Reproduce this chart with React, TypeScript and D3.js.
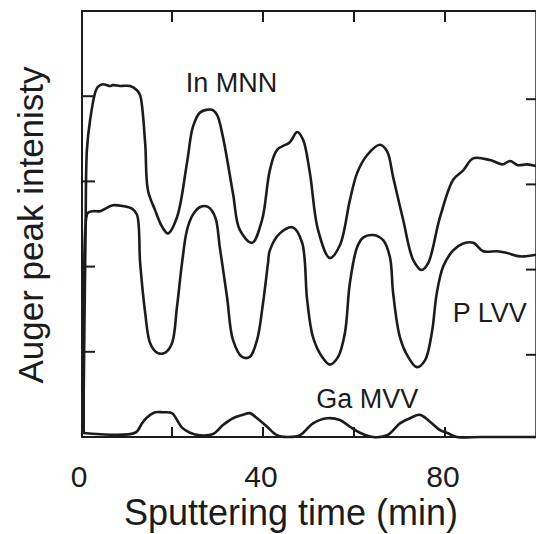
import React from "react";
import * as d3 from "d3";

// ---- data ----
const inTimes = [0.5, 1.0, 1.3, 2.0, 3.1, 3.7, 4.8, 6.4, 7.0, 8.6, 10.8, 12.3, 13.0, 14.1, 14.7, 16.3, 17.8, 19.1, 21.1, 23.3, 24.6, 26.2, 28.8, 29.9, 31.2, 33.4, 34.9, 37.6, 39.8, 41.5, 43.1, 45.9, 47.5, 48.8, 50.3, 52.1, 54.7, 56.9, 59.1, 60.7, 62.9, 65.7, 67.3, 68.6, 70.8, 73.0, 74.9, 76.3, 78.9, 81.8, 84.0, 86.2, 89.9, 92.7, 94.3, 96.0, 98.0, 100];
const inValues = [0.05, 2.4, 3.37, 3.72, 4.04, 4.11, 4.14, 4.12, 4.13, 4.12, 4.12, 4.07, 4.01, 3.45, 2.90, 2.66, 2.47, 2.39, 2.58, 3.22, 3.64, 3.81, 3.84, 3.78, 3.52, 2.86, 2.43, 2.28, 2.55, 3.13, 3.37, 3.46, 3.58, 3.49, 3.10, 2.43, 2.10, 2.25, 2.78, 3.10, 3.31, 3.43, 3.35, 3.05, 2.55, 2.08, 1.96, 2.04, 2.58, 3.02, 3.13, 3.27, 3.25, 3.20, 3.24, 3.19, 3.20, 3.18];

const pTimes = [0.6, 1.1, 1.5, 2.6, 4.2, 5.7, 7.0, 9.2, 11.2, 12.3, 13.0, 14.1, 15.2, 16.7, 18.5, 20.0, 21.1, 22.2, 23.3, 24.6, 26.2, 27.9, 29.5, 30.5, 32.1, 33.4, 35.4, 37.1, 38.7, 40.0, 41.1, 41.5, 43.7, 46.6, 48.6, 49.7, 51.0, 53.0, 54.7, 56.5, 58.0, 59.1, 60.7, 62.0, 64.2, 66.4, 67.9, 68.6, 70.1, 71.9, 73.8, 75.6, 77.1, 78.2, 79.6, 81.8, 84.0, 86.2, 88.4, 91.4, 93.6, 96.5, 100];
const pValues = [0.05, 2.55, 2.63, 2.65, 2.65, 2.69, 2.72, 2.71, 2.68, 2.61, 2.04, 1.46, 1.10, 0.99, 0.99, 1.10, 1.53, 2.04, 2.43, 2.61, 2.70, 2.70, 2.58, 2.23, 1.64, 1.14, 0.94, 0.94, 1.14, 1.57, 2.04, 2.19, 2.39, 2.46, 2.28, 1.61, 1.17, 0.94, 0.85, 0.94, 1.22, 1.81, 2.23, 2.34, 2.37, 2.31, 2.11, 1.69, 1.17, 0.94, 0.82, 0.90, 1.22, 1.69, 2.00, 2.19, 2.27, 2.28, 2.18, 2.18, 2.16, 2.12, 2.14];

const gaTimes = [0, 11.9, 13.4, 14.5, 16.3, 18.0, 20.0, 21.1, 22.2, 23.95, 26.2, 29.0, 31.2, 33.4, 35.6, 37.1, 38.7, 40.9, 43.1, 45.3, 48.1, 51.0, 54.1, 56.9, 59.1, 61.3, 64.2, 67.3, 70.1, 72.3, 74.5, 76.7, 78.9, 80.4, 82.6, 87.9, 100];
const gaValues = [0.05, 0.05, 0.16, 0.23, 0.29, 0.29, 0.28, 0.20, 0.11, 0.05, 0.02, 0.035, 0.14, 0.22, 0.26, 0.28, 0.22, 0.12, 0.02, 0.0, 0.02, 0.16, 0.22, 0.20, 0.12, 0.05, 0.0, 0.02, 0.16, 0.22, 0.26, 0.18, 0.08, 0.05, 0.0, 0.0, 0.0];

const xTicks = [20, 40, 60, 80];
const xTickLabels = [0, 40, 80];
const yTicks = [1, 2, 3, 4];

const seriesLabels = [
  { text: "In MNN", t: 23.0, v: 4.05 },
  { text: "P LVV", t: 81.7, v: 1.35 },
  { text: "Ga MVV", t: 51.7, v: 0.34 },
];

const xTitle = "Sputtering time (min)";
const yTitle = "Auger peak intenisty";

export default function App() {
  const W = 536;
  const H = 534;
  const x = d3.scaleLinear().domain([0, 100]).range([81, 536]);
  const y = d3.scaleLinear().domain([0, 5]).range([437, 11]);
  const ink = "#1c1c1c";
  const font = "'Liberation Sans', Arial, Helvetica, sans-serif";

  const line = d3
    .line<[number, number]>()
    .x((d) => x(d[0]))
    .y((d) => y(d[1]))
    .curve(d3.curveCatmullRom.alpha(0.5));

  const zip = (ts: number[], vs: number[]) =>
    ts.map((t, i) => [t, vs[i]] as [number, number]);

  const series = [zip(inTimes, inValues), zip(pTimes, pValues), zip(gaTimes, gaValues)];

  const [x0, x1] = x.range();
  const [yb, yt] = y.range();

  return (
    <svg
      width={W}
      height={H}
      style={{ position: "absolute", left: 0, top: 0, background: "#fff" }}
    >
      {/* frame */}
      <g stroke={ink} strokeWidth={2} fill="none">
        <line x1={x0} y1={yt} x2={x1} y2={yt} />
        <line x1={x0} y1={yb} x2={x1} y2={yb} />
        <line x1={x0 + 1} y1={yt} x2={x0 + 1} y2={yb} />
        <line x1={x1 + 0.3} y1={yt} x2={x1 + 0.3} y2={yb} />
        {xTicks.map((t) => (
          <g key={"xt" + t}>
            <line x1={x(t)} y1={yb} x2={x(t)} y2={yb - 10} />
            <line x1={x(t)} y1={yt} x2={x(t)} y2={yt + 11} />
          </g>
        ))}
        {yTicks.map((v) => (
          <g key={"yt" + v}>
            <line x1={x0} y1={y(v)} x2={x0 + 14} y2={y(v)} />
            <line x1={x1} y1={y(v) + 3} x2={x1 - 10} y2={y(v) + 3} />
          </g>
        ))}
      </g>

      {/* curves */}
      <g fill="none" stroke={ink} strokeWidth={2.6} strokeLinejoin="round">
        {series.map((s, i) => (
          <path key={i} d={line(s) || ""} />
        ))}
      </g>

      {/* tick labels */}
      <g fill={ink} fontFamily={font} fontSize={30} textAnchor="middle">
        {xTickLabels.map((t) => (
          <text key={"xl" + t} x={x(t) - 2} y={487}>
            {t}
          </text>
        ))}
      </g>

      {/* series labels */}
      <g fill={ink} fontFamily={font} fontSize={27}>
        {seriesLabels.map((l) => (
          <text key={l.text} x={x(l.t)} y={y(l.v)}>
            {l.text}
          </text>
        ))}
      </g>

      {/* axis titles */}
      <text
        x={291}
        y={525}
        fill={ink}
        fontFamily={font}
        fontSize={36}
        textAnchor="middle"
      >
        {xTitle}
      </text>
      <text
        transform={`translate(43,225) rotate(-90)`}
        fill={ink}
        fontFamily={font}
        fontSize={35}
        textAnchor="middle"
      >
        {yTitle}
      </text>
    </svg>
  );
}
